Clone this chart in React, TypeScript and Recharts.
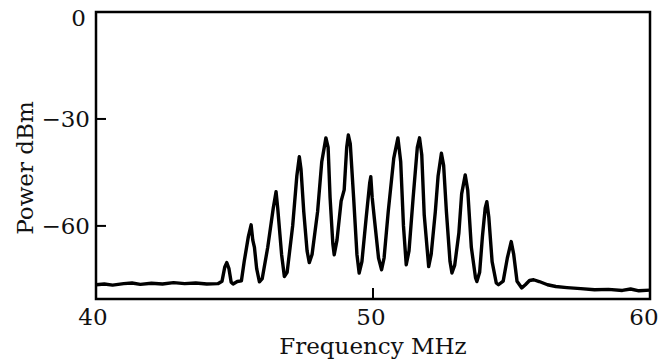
import React from 'react';
import { LineChart, Line, XAxis, YAxis, ReferenceArea, Label } from 'recharts';

const freqMHz = [
  40.0, 40.3, 40.6, 41.0, 41.3, 41.6, 42.0, 42.4, 42.8, 43.2, 43.6, 44.0, 44.4,
  44.55, 44.65, 44.72, 44.8, 44.88, 44.95, 45.1, 45.25, 45.35, 45.5, 45.6, 45.66, 45.72, 45.8, 45.9,
  46.0, 46.2, 46.4, 46.5, 46.56, 46.7, 46.8, 46.9, 47.1, 47.25, 47.34, 47.4, 47.5, 47.62, 47.7,
  47.8, 48.0, 48.15, 48.3, 48.38, 48.45, 48.55, 48.6, 48.7, 48.85, 48.96, 49.05, 49.11, 49.18,
  49.3, 49.42, 49.5, 49.6, 49.75, 49.88, 49.92, 49.97, 50.05, 50.2, 50.31, 50.4, 50.55, 50.75,
  50.9, 51.0, 51.1, 51.2, 51.3, 51.45, 51.6, 51.68, 51.76, 51.85, 52.01, 52.1, 52.25, 52.35,
  52.47, 52.55, 52.65, 52.78, 52.85, 52.95, 53.1, 53.2, 53.33, 53.42, 53.55, 53.7, 53.75, 53.85,
  53.95, 54.05, 54.11, 54.18, 54.3, 54.45, 54.53, 54.7, 54.85, 54.99, 55.08, 55.2, 55.37, 55.5,
  55.65, 55.8, 56.0, 56.3, 56.6, 57.0, 57.5, 58.0, 58.5, 59.0, 59.3, 59.6, 60.0,
];

const powerDbm = [
  -76.5, -76.3, -76.6, -76.2, -76.0, -76.4, -76.1, -76.3, -75.9, -76.2, -76.0, -76.3, -76.2,
  -75.5, -71.5, -70.3, -72.0, -75.8, -76.3, -75.6, -75.4, -70.0, -63.0, -59.7, -64.0, -66.0, -72.0, -75.7,
  -74.8, -66.0, -55.0, -50.4, -55.0, -68.0, -74.2, -73.0, -60.0, -46.0, -40.6, -44.0, -56.0, -67.0, -70.3,
  -68.0, -56.0, -42.0, -35.3, -38.0, -52.0, -65.0, -68.1, -64.0, -53.0, -49.9, -38.0, -34.5, -37.0,
  -52.0, -68.0, -73.2, -70.0, -58.0, -48.0, -46.2, -52.0, -58.0, -69.0, -72.3, -69.0, -56.0, -41.0,
  -35.3, -42.0, -60.0, -70.9, -67.0, -52.0, -38.0, -35.3, -40.0, -57.0, -71.4, -68.0, -56.0, -46.0,
  -39.6, -43.0, -56.0, -70.0, -73.2, -71.0, -62.0, -51.0, -45.7, -50.0, -66.0, -74.5, -75.6, -73.0,
  -63.0, -55.0, -53.2, -57.5, -70.0, -76.0, -76.5, -75.5, -69.0, -64.4, -68.0, -75.5, -77.4, -76.5,
  -75.3, -75.1, -75.6, -76.5, -77.0, -77.3, -77.6, -77.9, -77.8, -78.1, -77.7, -78.2, -78.0,
];

const xTicks = [40, 50, 60];
const yTicks = [0, -30, -60];
const xLabel = 'Frequency MHz';
const yLabel = 'Power dBm';

const data = freqMHz.map((f, i) => ({ f, p: powerDbm[i] }));

const FONT = '"DejaVu Serif", serif';
const FS = 23;

const fmt = (v: number) => (v < 0 ? '\u2212' + Math.abs(v) : String(v));

function YTick(props: any) {
  const { x, y, payload } = props;
  const v = payload.value as number;
  const isZero = v === 0;
  return (
    <g>
      {!isZero && <line x1={x} x2={x + 10} y1={y} y2={y} stroke="#000" strokeWidth={2} />}
      <text
        x={x - (isZero ? 10 : 6)}
        y={y + (isZero ? 6 : 0)}
        textAnchor="end"
        dominantBaseline="central"
        fontFamily={FONT}
        fontSize={FS}
        fill="#111"
      >
        {fmt(v)}
      </text>
    </g>
  );
}

function XTick(props: any) {
  const { x, y, payload } = props;
  const v = payload.value as number;
  const showLine = v !== 40 && v !== 60;
  const shift = v === 60 ? -6 : v === 40 ? -3 : -2;
  return (
    <g>
      {showLine && <line x1={x} x2={x} y1={y} y2={y - 11} stroke="#000" strokeWidth={2} />}
      <text
        x={x + shift}
        y={y + 18}
        textAnchor="middle"
        dominantBaseline="central"
        fontFamily={FONT}
        fontSize={FS}
        fill="#111"
      >
        {v}
      </text>
    </g>
  );
}

export default function App() {
  return (
    <div style={{ position: 'absolute', left: 0, top: 0, background: '#fff' }}>
      <LineChart
        width={671}
        height={359}
        data={data}
        margin={{ top: 12, right: 21, bottom: 0, left: 0 }}
      >
        <XAxis
          dataKey="f"
          type="number"
          domain={[40, 60]}
          ticks={xTicks}
          allowDataOverflow
          height={60}
          axisLine={false}
          tickLine={false}
          tickSize={0}
          tickMargin={0}
          tick={<XTick />}
          interval={0}
        >
          <Label
            content={() => (
              <text
                x={373}
                y={346}
                textAnchor="middle"
                dominantBaseline="central"
                fontFamily={FONT}
                fontSize={FS}
                fill="#111"
              >
                {xLabel}
              </text>
            )}
          />
        </XAxis>
        <YAxis
          type="number"
          domain={[-80.5, 0]}
          ticks={yTicks}
          allowDataOverflow
          width={96}
          axisLine={false}
          tickLine={false}
          tickSize={0}
          tickMargin={0}
          tick={<YTick />}
          interval={0}
        >
          <Label
            content={() => (
              <text
                x={25}
                y={168}
                transform="rotate(-90 25 168)"
                textAnchor="middle"
                dominantBaseline="central"
                fontFamily={FONT}
                fontSize={FS}
                fill="#111"
              >
                {yLabel}
              </text>
            )}
          />
        </YAxis>
        <ReferenceArea
          x1={40}
          x2={60}
          y1={-80.5}
          y2={0}
          fill="none"
          fillOpacity={0}
          stroke="#000"
          strokeWidth={2.5}
          ifOverflow="visible"
        />
        <Line
          type="linear"
          dataKey="p"
          stroke="#000"
          strokeWidth={3.4}
          dot={false}
          isAnimationActive={false}
          strokeLinejoin="round"
        />
      </LineChart>
    </div>
  );
}
